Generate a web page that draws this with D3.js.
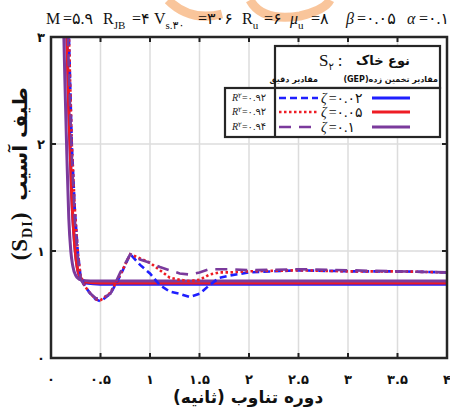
<!DOCTYPE html>
<html>
<head>
<meta charset="utf-8">
<script src="https://cdn.jsdelivr.net/npm/d3@7"></script>
<style>
  body { margin: 0; background: #fff; }
  svg { display: block; }
</style>
</head>
<body>
<div id="chart"></div>
<script>
// period values (s) and damage spectrum values
const exactT = [0.17, 0.19, 0.21, 0.24, 0.27, 0.3, 0.35, 0.4, 0.45, 0.5, 0.6, 0.7, 0.8, 0.9, 1.0, 1.1, 1.2, 1.3, 1.4, 1.5, 1.6, 1.7, 1.8, 2.0, 2.5, 3.0, 3.5, 4.0];
const exact002 = [3.4, 2.7, 2.0, 1.4, 1.0, 0.75, 0.66, 0.6, 0.55, 0.53, 0.6, 0.77, 0.97, 0.87, 0.79, 0.68, 0.62, 0.6, 0.57, 0.6, 0.68, 0.75, 0.77, 0.8, 0.82, 0.81, 0.81, 0.8];
const exact005 = [3.4, 2.7, 2.0, 1.4, 1.0, 0.75, 0.66, 0.6, 0.55, 0.54, 0.61, 0.78, 0.97, 0.93, 0.89, 0.82, 0.75, 0.73, 0.72, 0.73, 0.78, 0.8, 0.8, 0.81, 0.82, 0.81, 0.81, 0.8];
const exact01T = [0.16, 0.18, 0.21, 0.24, 0.27, 0.3, 0.35, 0.4, 0.45, 0.5, 0.6, 0.7, 0.8, 0.9, 1.0, 1.1, 1.2, 1.3, 1.4, 1.5, 1.6, 1.8, 2.0, 2.5, 3.0, 3.5, 4.0];
const exact01 = [3.4, 2.7, 1.9, 1.3, 0.95, 0.74, 0.65, 0.6, 0.56, 0.55, 0.6, 0.8, 0.97, 0.92, 0.89, 0.85, 0.82, 0.79, 0.78, 0.8, 0.83, 0.83, 0.82, 0.83, 0.82, 0.81, 0.8];

const gepT = [0.15, 0.18, 0.21, 0.24, 0.27, 0.3, 0.35, 0.5, 1.0, 2.0, 3.0, 4.0];
const gep002 = [3.4, 2.3, 1.5, 1.05, 0.82, 0.74, 0.7, 0.69, 0.69, 0.69, 0.69, 0.69];
const gep005 = [3.4, 2.3, 1.5, 1.05, 0.82, 0.75, 0.71, 0.7, 0.7, 0.7, 0.7, 0.7];
const gep01T = [0.12, 0.14, 0.16, 0.18, 0.2, 0.22, 0.25, 0.3, 0.4, 1.0, 2.0, 4.0];
const gep01 = [3.4, 2.6, 1.9, 1.3, 1.0, 0.86, 0.77, 0.73, 0.72, 0.72, 0.72, 0.72];

const xTicks = [0, 0.5, 1, 1.5, 2, 2.5, 3, 3.5, 4];
const yTicks = [0, 1, 2, 3];
const r2Values = ["۰.۹۲", "۰.۹۲", "۰.۹۴"];
const zetaLabels = ["۰.۰۲", "۰.۰۵", "۰.۱"];

const fa = n => String(n).replace(/[0-9]/g, c => "۰۱۲۳۴۵۶۷۸۹"[+c]);

const width = 450, height = 407;
const margin = { top: 37, right: 3, bottom: 49, left: 51 };

const svg = d3.select("#chart").append("svg")
    .attr("width", width)
    .attr("height", height);

const x = d3.scaleLinear().domain([0, 4]).range([margin.left, width - margin.right]);
const y = d3.scaleLinear().domain([0, 3]).range([height - margin.bottom, margin.top]);

// faint watermark behind the title
svg.append("path")
    .attr("d", "M168,0 Q190,22 222,14 M250,0 Q262,22 300,16 Q325,10 330,0")
    .attr("fill", "none")
    .attr("stroke", "#f7b27a")
    .attr("stroke-width", 9)
    .attr("opacity", 0.75);

// grid
svg.append("g").selectAll("line")
    .data(xTicks.slice(1, -1))
    .join("line")
    .attr("x1", d => x(d)).attr("x2", d => x(d))
    .attr("y1", y(0)).attr("y2", y(3))
    .attr("stroke", "#dcdcdc").attr("stroke-width", 1.5);
svg.append("g").selectAll("line")
    .data(yTicks.slice(1, -1))
    .join("line")
    .attr("x1", x(0)).attr("x2", x(4))
    .attr("y1", d => y(d)).attr("y2", d => y(d))
    .attr("stroke", "#dcdcdc").attr("stroke-width", 1.5);

// tick marks (inside, on all four sides)
const tk = svg.append("g").attr("stroke", "#222").attr("stroke-width", 2);
xTicks.slice(1, -1).forEach(t => {
    tk.append("line").attr("x1", x(t)).attr("x2", x(t)).attr("y1", y(0)).attr("y2", y(0) - 5);
    tk.append("line").attr("x1", x(t)).attr("x2", x(t)).attr("y1", y(3)).attr("y2", y(3) + 5);
});
yTicks.slice(1, -1).forEach(t => {
    tk.append("line").attr("x1", x(0)).attr("x2", x(0) + 5).attr("y1", y(t)).attr("y2", y(t));
    tk.append("line").attr("x1", x(4)).attr("x2", x(4) - 5).attr("y1", y(t)).attr("y2", y(t));
});

svg.append("clipPath").attr("id", "plot-clip")
    .append("rect")
    .attr("x", x(0)).attr("y", y(3))
    .attr("width", x(4) - x(0)).attr("height", y(0) - y(3));

const series = [
    { T: gepT, v: gep002, color: "#1f1fff", dash: null, w: 3, curve: d3.curveMonotoneX },
    { T: gepT, v: gep005, color: "#ee1c24", dash: null, w: 3, curve: d3.curveMonotoneX },
    { T: gep01T, v: gep01, color: "#7b3a9c", dash: null, w: 3, curve: d3.curveMonotoneX },
    { T: exactT, v: exact002, color: "#1f1fff", dash: "7,4", w: 2.6, curve: d3.curveLinear },
    { T: exactT, v: exact005, color: "#ee1c24", dash: "2.5,2.5", w: 2.6, curve: d3.curveLinear },
    { T: exact01T, v: exact01, color: "#7b3a9c", dash: "12,8", w: 2.6, curve: d3.curveLinear }
];

const plot = svg.append("g").attr("clip-path", "url(#plot-clip)");
series.forEach(s => {
    const line = d3.line()
        .x((d, i) => x(s.T[i]))
        .y(d => y(d))
        .curve(s.curve);
    plot.append("path")
        .datum(s.v)
        .attr("d", line)
        .attr("fill", "none")
        .attr("stroke", s.color)
        .attr("stroke-width", s.w)
        .attr("stroke-dasharray", s.dash);
});

// frame
svg.append("rect")
    .attr("x", x(0)).attr("y", y(3))
    .attr("width", x(4) - x(0)).attr("height", y(0) - y(3))
    .attr("fill", "none")
    .attr("stroke", "#262626")
    .attr("stroke-width", 2.5);

// tick labels
const tickFont = "'DejaVu Sans', sans-serif";
svg.append("g").selectAll("text")
    .data(xTicks)
    .join("text")
    .attr("x", d => x(d))
    .attr("y", 384)
    .attr("text-anchor", "middle")
    .attr("font-family", tickFont)
    .attr("font-weight", "bold")
    .attr("font-size", 13)
    .attr("fill", "#111")
    .text(d => fa(d));
svg.append("g").selectAll("text")
    .data(yTicks)
    .join("text")
    .attr("x", x(0) - 6)
    .attr("y", d => y(d) + 5)
    .attr("text-anchor", "end")
    .attr("font-family", tickFont)
    .attr("font-weight", "bold")
    .attr("font-size", 13)
    .attr("fill", "#111")
    .text(d => fa(d));

// axis titles
svg.append("text")
    .attr("x", 248)
    .attr("y", 403)
    .attr("text-anchor", "middle")
    .attr("direction", "rtl")
    .attr("font-family", tickFont)
    .attr("font-weight", "bold")
    .attr("font-size", 17)
    .attr("fill", "#111")
    .text("دوره تناوب (ثانیه)");

const yl = svg.append("g").attr("transform", "translate(27,0) rotate(-90)");
yl.append("text")
    .attr("x", -144)
    .attr("y", 0)
    .attr("text-anchor", "middle")
    .attr("direction", "rtl")
    .attr("font-family", tickFont)
    .attr("font-weight", "bold")
    .attr("font-size", 20)
    .attr("fill", "#111")
    .text("طیف آسیب");
const sdi = yl.append("text")
    .attr("x", -236)
    .attr("y", 0)
    .attr("text-anchor", "middle")
    .attr("font-family", "'Liberation Serif', serif")
    .attr("font-weight", "bold")
    .attr("font-size", 23)
    .attr("letter-spacing", 1)
    .attr("fill", "#111");
sdi.append("tspan").text("(S");
sdi.append("tspan").attr("font-size", 14).attr("dy", 5).text("DI");
sdi.append("tspan").attr("dy", -5).text(")");

// parameter line above the chart
const serif = "'Liberation Serif', 'DejaVu Sans', serif";
const titleParts = [
    { x: 46, t: "M", sub: null }, { x: 63, t: "=" + fa("5.9"), sub: null },
    { x: 103, t: "R", sub: "JB" }, { x: 132, t: "=" + fa(4), sub: null },
    { x: 154, t: "V", sub: "s." + fa(30) }, { x: 198, t: "=" + fa(306), sub: null },
    { x: 242, t: "R", sub: "u" }, { x: 264, t: "=" + fa(6), sub: null },
    { x: 290, t: "μ", sub: "u", it: true }, { x: 311, t: "=" + fa(8), sub: null },
    { x: 346, t: "β", sub: null, it: true }, { x: 357, t: "=" + fa("0.05"), sub: null },
    { x: 407, t: "α", sub: null, it: true }, { x: 419, t: "=" + fa("0.1"), sub: null }
];
const title = svg.append("g");
titleParts.forEach(p => {
    const tx = title.append("text")
        .attr("x", p.x).attr("y", 24)
        .attr("font-family", serif)
        .attr("font-size", 16)
        .attr("font-style", p.it ? "italic" : "normal")
        .attr("fill", "#111");
    tx.append("tspan").text(p.t);
    if (p.sub) tx.append("tspan").attr("dy", 5).attr("font-size", 11).attr("font-style", "normal").text(p.sub);
});

// legend
const lg = svg.append("g");
lg.append("rect")
    .attr("x", 275).attr("y", 46).attr("width", 165).attr("height", 42)
    .attr("fill", "#fff").attr("stroke", "#262626").attr("stroke-width", 2.2);
lg.append("rect")
    .attr("x", 225).attr("y", 88).attr("width", 215).attr("height", 49)
    .attr("fill", "#fff").attr("stroke", "#262626").attr("stroke-width", 2.2);
lg.append("line")
    .attr("x1", 275).attr("x2", 275).attr("y1", 88).attr("y2", 137)
    .attr("stroke", "#262626").attr("stroke-width", 2.2);

const head = lg.append("text")
    .attr("x", 319).attr("y", 66)
    .attr("font-family", serif)
    .attr("font-size", 17)
    .attr("fill", "#111");
head.append("tspan").text("S");
head.append("tspan").attr("dy", 4).attr("font-size", 10).text(fa(2));
head.append("tspan").attr("dy", -4).attr("dx", 4).text(":");
lg.append("text")
    .attr("x", 410).attr("y", 65)
    .attr("text-anchor", "start")
    .attr("direction", "rtl")
    .attr("font-family", tickFont)
    .attr("font-weight", "bold")
    .attr("font-size", 13)
    .attr("fill", "#111")
    .text("نوع خاک");
lg.append("text")
    .attr("x", 318).attr("y", 82)
    .attr("text-anchor", "start")
    .attr("direction", "rtl")
    .attr("font-family", tickFont)
    .attr("font-weight", "bold")
    .attr("font-size", 8)
    .attr("fill", "#111")
    .text("مقادیر دقیق");
lg.append("text")
    .attr("x", 438).attr("y", 82)
    .attr("text-anchor", "start")
    .attr("direction", "rtl")
    .attr("font-family", tickFont)
    .attr("font-weight", "bold")
    .attr("font-size", 8)
    .attr("fill", "#111")
    .text("مقادیر تخمین زده(GEP)");

const rowY = [98, 112, 127];
[3, 4, 5].forEach((si, i) => {
    const s = series[si];
    lg.append("line")
        .attr("x1", 279).attr("x2", 318)
        .attr("y1", rowY[i]).attr("y2", rowY[i])
        .attr("stroke", s.color).attr("stroke-width", s.w)
        .attr("stroke-dasharray", s.dash);
    const g = series[si - 3];
    lg.append("line")
        .attr("x1", 372).attr("x2", 410)
        .attr("y1", rowY[i]).attr("y2", rowY[i])
        .attr("stroke", g.color).attr("stroke-width", g.w);
    const zt = lg.append("text")
        .attr("x", 321).attr("y", rowY[i] + 5)
        .attr("font-family", serif)
        .attr("font-size", 14)
        .attr("fill", "#111");
    zt.append("tspan").attr("font-style", "italic").text("ζ");
    zt.append("tspan").attr("dx", 2).text("=" + zetaLabels[i]);
    const rt = lg.append("text")
        .attr("x", 232).attr("y", rowY[i] + 3)
        .attr("font-family", serif)
        .attr("font-size", 10)
        .attr("fill", "#222");
    rt.append("tspan").attr("font-style", "italic").text("R");
    rt.append("tspan").attr("dy", -3).attr("font-size", 7).text(fa(2));
    rt.append("tspan").attr("dy", 3).text("=" + r2Values[i]);
});
</script>
</body>
</html>
